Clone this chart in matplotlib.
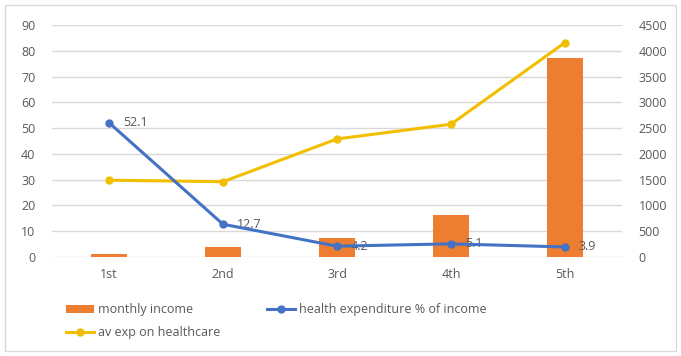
import numpy as np
import matplotlib.pyplot as plt
from matplotlib.patches import Rectangle

plt.rcParams['font.family'] = ['Open Sans', 'DejaVu Sans']

quintiles = ['1st', '2nd', '3rd', '4th', '5th']
monthly_income = [52, 188, 375, 815, 3855]
health_pct = [52.1, 12.7, 4.2, 5.1, 3.9]
av_exp = [1490, 1460, 2290, 2575, 4160]

grey = '#595959'
orange = '#ED7D31'
blue = '#4472C4'
yellow = '#F2BE00'

fig = plt.figure(figsize=(6.81, 3.56), dpi=100)
fig.patches.append(Rectangle((0.008, 0.015), 0.984, 0.97, transform=fig.transFigure,
                             fill=False, edgecolor='#D9D9D9', linewidth=1))
ax = fig.add_axes([52 / 681, 99 / 356, 570 / 681, 232 / 356])
ax2 = ax.twinx()

x = np.arange(len(quintiles))

ax2.bar(x, monthly_income, 0.31, color=orange, label='monthly income', zorder=2)
ax2.plot(x, av_exp, color=yellow, lw=2.2, marker='o', ms=5, label='av exp on healthcare', zorder=3)
ax2.set_ylim(0, 4500)
ax2.set_yticks(range(0, 4501, 500))
ax2.grid(axis='y', color='#D9D9D9', lw=1, zorder=0)
ax2.set_axisbelow(True)

ax.plot(x, health_pct, color=blue, lw=2.2, marker='o', ms=5,
        label='health expenditure % of income', zorder=4)
for xi, v in zip(x, health_pct):
    ax.annotate(str(v), (xi, v), xytext=(10, 0), textcoords='offset points',
                va='center', ha='left', fontsize=9, color=grey)
ax.set_ylim(0, 90)
ax.set_yticks(range(0, 91, 10))
ax.set_xlim(-0.5, 4.5)
ax.set_xticks(x, quintiles)

# left-axis line on top of the twin axis
ax.set_zorder(ax2.get_zorder() + 1)
ax.patch.set_visible(False)

for a in (ax, ax2):
    for s in a.spines.values():
        s.set_visible(False)
    a.tick_params(length=0, labelsize=9, colors=grey)
ax.tick_params(axis='y', pad=12)
ax2.tick_params(axis='y', pad=12)
ax.tick_params(axis='x', pad=8)

h1, l1 = ax2.get_legend_handles_labels()
h2, l2 = ax.get_legend_handles_labels()
# rows: monthly income | health %, then av exp
leg = fig.legend([h1[1], h1[0], h2[0]], [l1[1], l1[0], l2[0]], ncol=2,
                 loc='upper left', bbox_to_anchor=(55 / 681, 1 - 292 / 356),
                 frameon=False, fontsize=9, labelcolor=grey, handlelength=2.2,
                 handletextpad=0.3, columnspacing=3.8, labelspacing=0.8)

plt.savefig('out.png', dpi=100)
